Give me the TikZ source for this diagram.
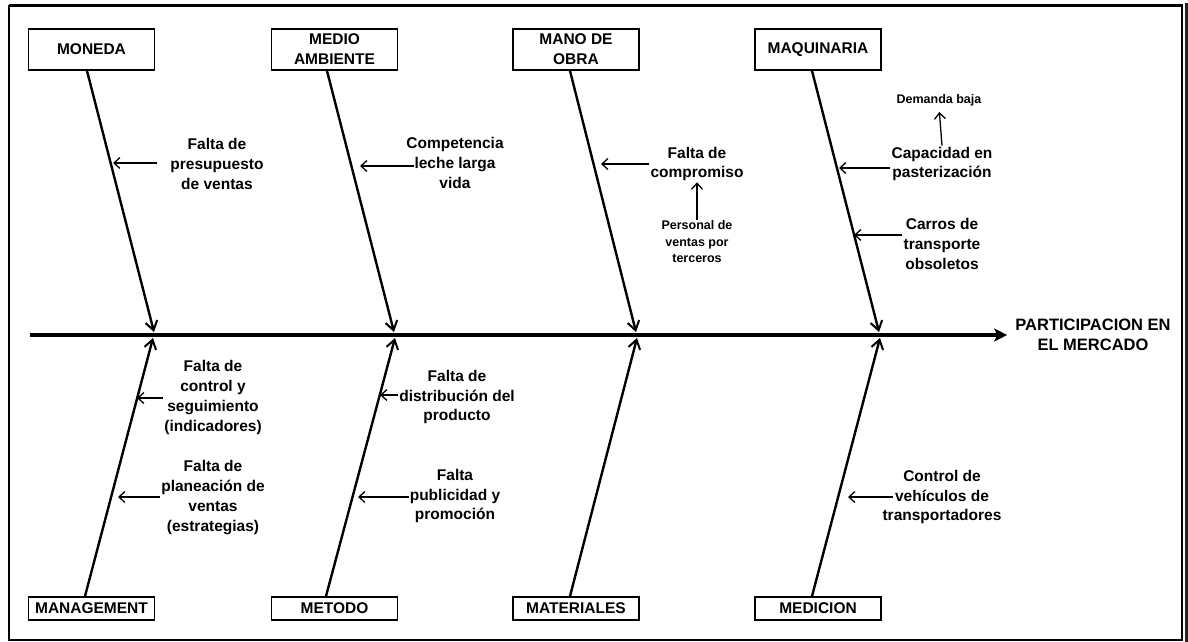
\documentclass[tikz,border=0pt]{standalone}
\usepackage{fontspec}
\setmainfont{Liberation Sans}
\usetikzlibrary{arrows.meta}
\usetikzlibrary{calc}

\tikzset{
  catbox/.style={draw,line width=1.6pt,minimum width=126pt,minimum height=41pt,inner sep=1pt,align=center,font=\bfseries\fontsize{15.5}{20}\selectfont},
  lowbox/.style={catbox,minimum height=23pt},
  causetxt/.style={align=center,inner sep=1pt,font=\bfseries\fontsize{15.5}{19.8}\selectfont},
  subtxt/.style={align=center,inner sep=1pt,font=\bfseries\fontsize{12.5}{16.5}\selectfont},
  bone/.style={line width=2.4pt,-{Straight Barb[length=9pt,width=12pt,line width=2pt]}},
  cause/.style={line width=1.3pt,-{Straight Barb[length=6pt,width=11pt]}},
}

\begin{document}
\begin{tikzpicture}[x=1pt,y=-1pt]

\useasboundingbox (0,0) rectangle (1188,642);
\fill[white] (0,0) rectangle (1188,642);

% frame
\draw[line width=2.6pt] (9,5.5) -- (1182,5.5) -- (1182,640) (9,5.5) -- (9,640);
\draw[line width=1.5pt] (8,640) -- (1183,640);
\fill[black!85] (1185,3) rectangle (1188,642);

% spine
\coordinate (tail) at (30,335);
\node[font=\bfseries\fontsize{16.5}{20}\selectfont,align=center,inner sep=1pt] (effect) at (1093,335) {PARTICIPACION EN\\EL MERCADO};
\draw[line width=4pt,-{Stealth[length=13pt,width=13pt,inset=3pt]},shorten >=7pt] (tail) -- (effect.west);

% categories
\node[catbox] (moneda) at (91.5,49.5) {MONEDA};
\node[catbox] (medio) at (334.5,49.5) {MEDIO\\AMBIENTE};
\node[catbox] (mano) at (576,49.5) {MANO DE\\OBRA};
\node[catbox] (maquina) at (818,49.5) {MAQUINARIA};

\node[lowbox] (manage) at (91.5,608.5) {MANAGEMENT};
\node[lowbox] (metodo) at (334.5,608.5) {METODO};
\node[lowbox] (mater) at (576,608.5) {MATERIALES};
\node[lowbox] (medic) at (818,608.5) {MEDICION};

% bone tips on the spine
\coordinate (p1) at (154,332);
\coordinate (p2) at (394,332);
\coordinate (p3) at (636,332);
\coordinate (p4) at (879,332);
\coordinate (q1) at (153,338);
\coordinate (q2) at (395,338);
\coordinate (q3) at (637,338);
\coordinate (q4) at (880,338);

\draw[bone] ([xshift=-4.5pt]moneda.south) -- (p1);
\draw[bone] ([xshift=-7.5pt]medio.south) -- (p2);
\draw[bone] ([xshift=-6pt]mano.south) -- (p3);
\draw[bone] ([xshift=-6pt]maquina.south) -- (p4);
\draw[bone] ([xshift=-6.5pt]manage.north) -- (q1);
\draw[bone] ([xshift=-8.5pt]metodo.north) -- (q2);
\draw[bone] ([xshift=-6pt]mater.north) -- (q3);
\draw[bone] ([xshift=-6pt]medic.north) -- (q4);

% causes, upper half
\node[causetxt] (t1) at (217,164) {Falta de\\presupuesto\\de ventas};
\node[causetxt] (t2) at (455,163) {Competencia\\leche larga\\vida};
\node[causetxt] (t3) at (697,164) {Falta de\\compromiso};
\node[subtxt] (t4) at (697,242) {Personal de\\ventas por\\terceros};
\node[subtxt] (t5) at (939,100) {Demanda baja};
\node[causetxt] (t6) at (942,164) {Capacidad en\\pasterización};
\node[causetxt] (t7) at (942,244) {Carros de\\transporte\\obsoletos};

\coordinate (a1) at (113,163);
\coordinate (a2) at (360,166);
\coordinate (a3) at (601,164);
\coordinate (a6) at (839,168);
\coordinate (a7) at (854,235);

\draw[cause] ($(t1.west |- a1)+(-12,0)$) -- (a1);
\draw[cause] ($(t2.west |- a2)+(9,0)$) -- (a2);
\draw[cause] (t3.west |- a3) -- (a3);
\draw[cause] (t4.north) -- (t3.south);
\draw[cause,shorten >=5pt] (t6.north) -- (t5.south);
\draw[cause] (t6.west |- a6) -- (a6);
\draw[cause] (t7.west |- a7) -- (a7);

% causes, lower half
\node[causetxt] (b1) at (213,397.5) {Falta de\\control y\\seguimiento\\(indicadores)};
\node[causetxt] (b2) at (213,497.5) {Falta de\\planeación de\\ventas\\(estrategias)};
\node[causetxt] (b3) at (457,397) {Falta de\\distribución del\\producto};
\node[causetxt] (b4) at (455,496) {Falta\\publicidad y\\promoción};
\node[causetxt] (b5) at (942,497) {Control de\\vehículos de\\transportadores};

\coordinate (c1) at (137,398);
\coordinate (c2) at (118,497);
\coordinate (c3) at (380,395);
\coordinate (c4) at (358,497);
\coordinate (c5) at (848,497);

\draw[cause] (b1.west |- c1) -- (c1);
\draw[cause] (b2.west |- c2) -- (c2);
\draw[cause] (b3.west |- c3) -- (c3);
\draw[cause] (b4.west |- c4) -- (c4);
\draw[cause] ($(b5.west |- c5)+(12,0)$) -- (c5);

\end{tikzpicture}
\end{document}
